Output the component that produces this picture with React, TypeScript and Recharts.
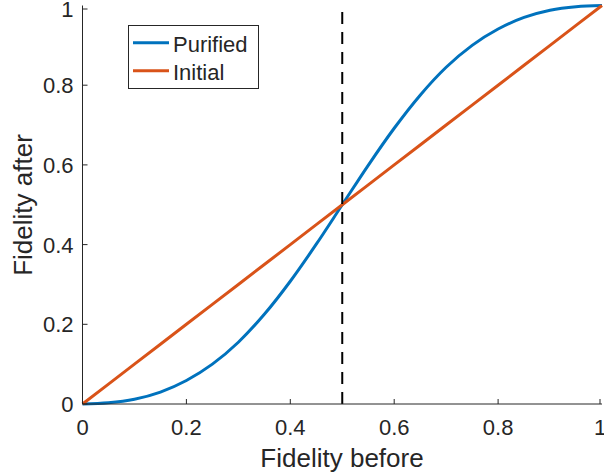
import React from "react"
import { LineChart, Line, XAxis, YAxis, ReferenceLine } from "recharts"

// values
const fidelityBefore = [0, 0.05, 0.1, 0.15, 0.2, 0.25, 0.3, 0.35, 0.4, 0.45, 0.5, 0.55, 0.6, 0.65, 0.7, 0.75, 0.8, 0.85, 0.9, 0.95, 1]
const purified = [0, 0.003, 0.012, 0.03, 0.059, 0.1, 0.155, 0.225, 0.308, 0.401, 0.5, 0.599, 0.692, 0.775, 0.845, 0.9, 0.941, 0.97, 0.988, 0.997, 1]
const initial = [0, 0.05, 0.1, 0.15, 0.2, 0.25, 0.3, 0.35, 0.4, 0.45, 0.5, 0.55, 0.6, 0.65, 0.7, 0.75, 0.8, 0.85, 0.9, 0.95, 1]
const ticks = [0, 0.2, 0.4, 0.6, 0.8, 1]
const threshold = 0.5
const seriesNames = ["Purified", "Initial"]

const data = fidelityBefore.map((f, i) => ({ f, purified: purified[i], initial: initial[i] }))

const INK = "#262626"
const FONT = "'Liberation Sans', Arial, sans-serif"
const BLUE = "#0072BD"
const ORANGE = "#D95319"
const TICK_LEN = 5

const fmt = (v: number) => String(v)

const BottomTick = ({ x, y, payload }: any) => (
  <g>
    <line x1={x} x2={x} y1={y} y2={y - TICK_LEN} stroke={INK} />
    <text x={x} y={y + 31} textAnchor="middle" fill={INK} fontSize={22} fontFamily={FONT}>
      {fmt(payload.value)}
    </text>
  </g>
)

const LeftTick = ({ x, y, payload }: any) => (
  <g>
    <line x1={x} x2={x + TICK_LEN} y1={y} y2={y} stroke={INK} />
    <text x={x - 9} y={y + 8} textAnchor="end" fill={INK} fontSize={22} fontFamily={FONT}>
      {fmt(payload.value)}
    </text>
  </g>
)

const TopTick = ({ x, y }: any) => <line x1={x} x2={x} y1={y} y2={y + TICK_LEN} stroke={INK} />
const RightTick = ({ x, y }: any) => <line x1={x} x2={x - TICK_LEN} y1={y} y2={y} stroke={INK} />

const LegendBox = () => (
  <div
    style={{
      position: "absolute",
      left: 128,
      top: 25,
      width: 131,
      height: 64,
      boxSizing: "border-box",
      border: `1px solid ${INK}`,
      background: "#fff",
    }}
  >
    <svg width={129} height={62} style={{ display: "block" }}>
      <line x1={4} x2={40} y1={16.7} y2={16.7} stroke={BLUE} strokeWidth={3} />
      <text x={44} y={25.5} fill={INK} fontSize={22} fontFamily={FONT}>{seriesNames[0]}</text>
      <line x1={4} x2={40} y1={44.7} y2={44.7} stroke={ORANGE} strokeWidth={3} />
      <text x={44} y={53.5} fill={INK} fontSize={22} fontFamily={FONT}>{seriesNames[1]}</text>
    </svg>
  </div>
)

export default function App() {
  return (
    <div style={{ position: "absolute", left: 0, top: 0, width: 604, height: 476, background: "#fff" }}>
      <LineChart width={604} height={476} data={data} margin={{ top: 5.5, right: 2, bottom: 0, left: 0 }}>
        <XAxis
          xAxisId="b"
          dataKey="f"
          type="number"
          domain={[0, 1]}
          ticks={ticks}
          height={72}
          tickSize={0}
          tickMargin={0}
          tick={<BottomTick />}
          axisLine={{ stroke: INK }}
        />
        <XAxis
          xAxisId="t"
          orientation="top"
          dataKey="f"
          type="number"
          domain={[0, 1]}
          ticks={ticks}
          height={0}
          tickSize={0}
          tickMargin={0}
          tick={<TopTick />}
          axisLine={{ stroke: INK }}
        />
        <YAxis
          yAxisId="l"
          type="number"
          domain={[0, 1]}
          ticks={ticks}
          width={82.5}
          tickSize={0}
          tickMargin={0}
          tick={<LeftTick />}
          axisLine={{ stroke: INK }}
        />
        <YAxis
          yAxisId="r"
          orientation="right"
          type="number"
          domain={[0, 1]}
          ticks={ticks}
          width={0}
          tickSize={0}
          tickMargin={0}
          tick={<RightTick />}
          axisLine={{ stroke: INK }}
        />
        <Line xAxisId="b" yAxisId="l" dataKey="purified" name={seriesNames[0]} type="monotone" stroke={BLUE} strokeWidth={3} dot={false} isAnimationActive={false} />
        <Line xAxisId="b" yAxisId="l" dataKey="initial" name={seriesNames[1]} type="linear" stroke={ORANGE} strokeWidth={3} dot={false} isAnimationActive={false} />
        <ReferenceLine xAxisId="b" yAxisId="l" x={threshold} stroke="#000" strokeWidth={2} strokeDasharray="12 8" />
      </LineChart>
      <LegendBox />
      <svg width={604} height={476} style={{ position: "absolute", left: 0, top: 0, pointerEvents: "none" }}>
        <text x={342} y={467} textAnchor="middle" fill={INK} fontSize={26} fontFamily={FONT}>
          Fidelity before
        </text>
        <text x={0} y={0} transform="translate(32 205) rotate(-90)" textAnchor="middle" fill={INK} fontSize={26} fontFamily={FONT}>
          Fidelity after
        </text>
      </svg>
    </div>
  )
}
